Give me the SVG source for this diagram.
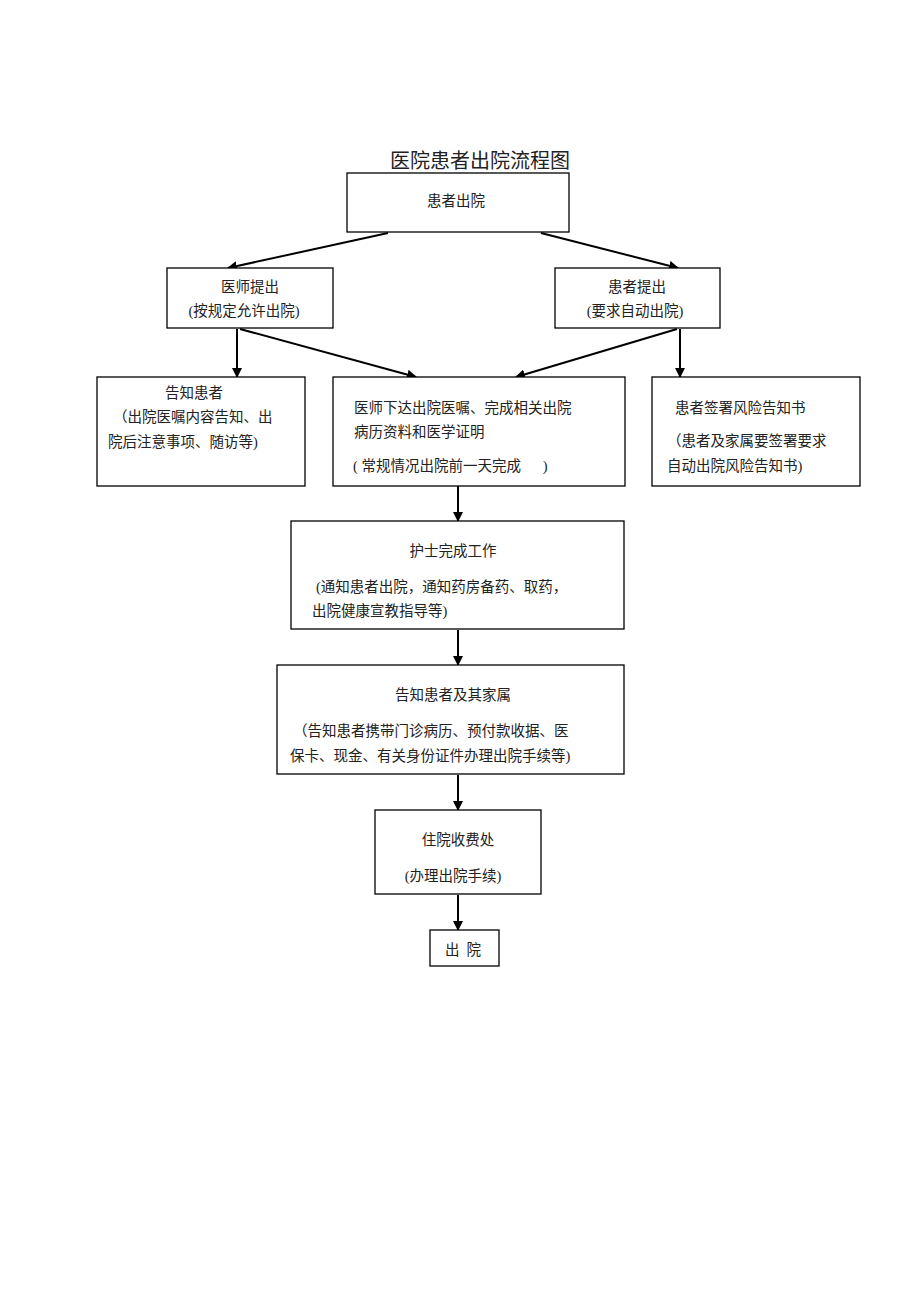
<svg xmlns="http://www.w3.org/2000/svg" width="920" height="1303" viewBox="0 0 920 1303">
<defs>
<style>
.box{fill:#fff;stroke:#000;stroke-width:1.3}
.t{font-family:"Liberation Serif","Noto Sans CJK SC",serif;font-size:14.5px;fill:#222}
.c{text-anchor:middle}
.ln{stroke:#000;stroke-width:2;fill:none;marker-end:url(#ah)}
</style>
<marker id="ah" markerWidth="10" markerHeight="10" refX="9" refY="5" orient="auto" markerUnits="userSpaceOnUse">
<path d="M0,0 L10,5 L0,10 Z" fill="#000"/>
</marker>
</defs>
<rect width="920" height="1303" fill="#fff"/>
<text x="480" y="168" class="t c" style="font-size:20px">医院患者出院流程图</text>
<g id="connectors">
<line class="ln" x1="388" y1="233" x2="228" y2="268"/>
<line class="ln" x1="541" y1="233" x2="678" y2="268"/>
<line class="ln" x1="237" y1="329" x2="237" y2="377"/>
<line class="ln" x1="240" y1="329" x2="416" y2="377"/>
<line class="ln" x1="677" y1="329" x2="516" y2="377"/>
<line class="ln" x1="680" y1="329" x2="680" y2="377"/>
<line class="ln" x1="458" y1="486" x2="458" y2="521"/>
<line class="ln" x1="458" y1="630" x2="458" y2="665"/>
<line class="ln" x1="458" y1="775" x2="458" y2="810"/>
<line class="ln" x1="458" y1="895" x2="458" y2="930"/>
</g>
<g id="n1"><rect class="box" x="347" y="173" width="222" height="59"/>
<text x="456" y="206" class="t c">患者出院</text></g>
<g id="n2"><rect class="box" x="167" y="268" width="166" height="60"/>
<text x="250" y="292" class="t c">医师提出</text>
<text x="244" y="316" class="t c">(按规定允许出院)</text></g>
<g id="n3"><rect class="box" x="555" y="268" width="165" height="60"/>
<text x="637" y="292" class="t c">患者提出</text>
<text x="635" y="316" class="t c">(要求自动出院)</text></g>
<g id="n4"><rect class="box" x="97" y="377" width="208" height="109"/>
<text x="194" y="398" class="t c">告知患者</text>
<text x="113" y="422" class="t">（出院医嘱内容告知、出</text>
<text x="108" y="447" class="t">院后注意事项、随访等)</text></g>
<g id="n5"><rect class="box" x="333" y="377" width="292" height="109"/>
<text x="354" y="413" class="t">医师下达出院医嘱、完成相关出院</text>
<text x="354" y="437" class="t">病历资料和医学证明</text>
<text x="353" y="471" class="t" xml:space="preserve">( 常规情况出院前一天完成      )</text></g>
<g id="n6"><rect class="box" x="652" y="377" width="208" height="109"/>
<text x="675" y="413" class="t">患者签署风险告知书</text>
<text x="667" y="446" class="t">（患者及家属要签署要求</text>
<text x="667" y="471" class="t">自动出院风险告知书)</text></g>
<g id="n7"><rect class="box" x="291" y="521" width="333" height="108"/>
<text x="453" y="556" class="t c">护士完成工作</text>
<text x="316" y="592" class="t">(通知患者出院，通知药房备药、取药，</text>
<text x="312" y="616" class="t">出院健康宣教指导等)</text></g>
<g id="n8"><rect class="box" x="277" y="665" width="347" height="109"/>
<text x="453" y="700" class="t c">告知患者及其家属</text>
<text x="293" y="736" class="t">（告知患者携带门诊病历、预付款收据、医</text>
<text x="290" y="761" class="t">保卡、现金、有关身份证件办理出院手续等)</text></g>
<g id="n9"><rect class="box" x="375" y="810" width="166" height="84"/>
<text x="458" y="845" class="t c">住院收费处</text>
<text x="453" y="881" class="t c">(办理出院手续)</text></g>
<g id="n10"><rect class="box" x="430" y="930" width="69" height="36"/>
<text x="463" y="955" class="t c" xml:space="preserve">出  院</text></g>
</svg>
